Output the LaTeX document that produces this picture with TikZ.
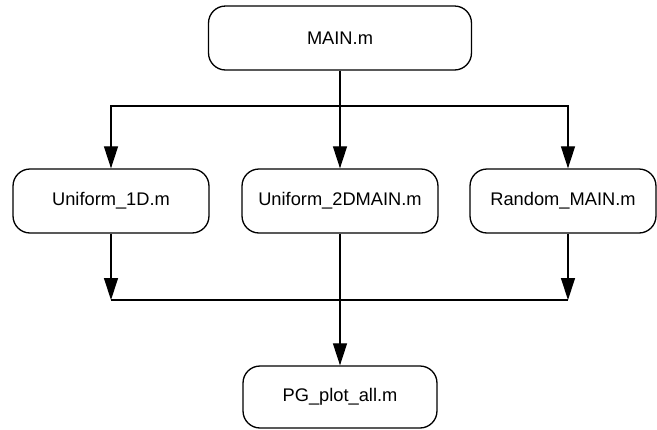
\documentclass[tikz,border=0pt]{standalone}
\usepackage{fontspec}
\setmainfont{Liberation Sans}
\usetikzlibrary{arrows.meta}
\tikzset{
  file/.style={draw, rounded corners=0.34cm, minimum width=3.92cm, minimum height=1.28cm,
    line width=0.75pt, font=\fontsize{10.4}{12}\selectfont},
  arr/.style={-{Triangle[length=0.44cm,width=0.28cm]}},
}
\begin{document}
\begin{tikzpicture}[x=0.02cm, y=-0.02cm, line width=0.7pt]
\useasboundingbox (0,0) rectangle (657,430);
\node[file, minimum width=5.26cm] (main) at (340,38) {MAIN.m};
\node[file] (uni1) at (111,201) {Uniform\_1D.m};
\node[file] (uni2) at (340,201) {Uniform\_2DMAIN.m};
\node[file, minimum width=3.72cm] (rand) at (563,201) {Random\_MAIN.m};
\node[file, minimum width=3.88cm, minimum height=1.24cm] (plot) at (340,397) {PG\_plot\_all.m};
% split below MAIN.m
\coordinate (busT) at (340,106);
\coordinate (randIn) at ([xshift=0.1cm]rand.north);
\coordinate (randOut) at ([xshift=0.1cm]rand.south);
\draw (main.south) -- (busT);
\draw[arr] (busT) -| (uni1.north);
\draw[arr] (busT) -- (uni2.north);
\draw[arr] (busT) -| (randIn);
% join above PG_plot_all.m
\coordinate (joinL) at (uni1.south |- 0,300);
\coordinate (joinR) at (randOut |- 0,300);
\draw[arr] (uni1.south) -- (joinL);
\draw[arr] (randOut) -- (joinR);
\draw (joinL) -- (joinR);
\draw[arr] (uni2.south) -- (plot.north);
\end{tikzpicture}
\end{document}
